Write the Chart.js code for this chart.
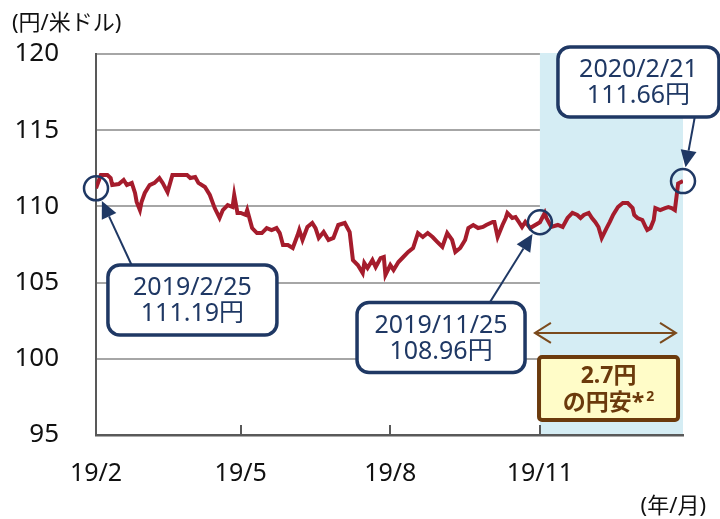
<!DOCTYPE html>
<html>
<head>
<meta charset="utf-8">
<script src="https://cdn.jsdelivr.net/npm/chart.js@4.4.1/dist/chart.umd.min.js"></script>
<style>
  html, body { margin: 0; padding: 0; background: #ffffff; }
  #chart { display: block; }
</style>
</head>
<body>
<canvas id="chart" width="720" height="519"></canvas>
<script>
// USD/JPY, days counted from 2019/2/25
const days = [0,3,7,9,10,14,17,19,22,24,25,27,28,30,33,36,39,41,44,47,52,56,58,61,63,67,70,73,76,78,81,84,85,87,89,92,93,96,99,102,105,108,111,113,115,118,121,124,125,127,130,133,135,137,140,143,146,149,153,156,158,161,164,165,167,170,172,175,177,178,181,183,186,189,192,195,198,201,204,207,210,213,216,219,221,224,227,229,232,235,238,240,244,245,247,250,252,253,256,258,260,262,264,267,273,276,277,280,284,287,290,293,296,298,300,303,305,307,309,311,314,316,318,321,324,327,330,331,333,336,338,339,341,343,344,347,350,352,354,356,358,361];
const rates = [111.19,112.06,112.06,111.86,111.40,111.47,111.73,111.40,111.54,110.88,110.29,109.76,110.29,110.88,111.40,111.54,111.86,111.54,110.94,112.06,112.06,112.06,111.86,111.93,111.54,111.27,110.75,109.89,109.24,109.76,110.09,109.96,110.75,109.57,109.57,109.44,109.76,108.58,108.25,108.25,108.58,108.45,108.58,108.25,107.47,107.47,107.27,108.12,108.45,107.80,108.65,108.91,108.58,107.93,108.32,107.80,107.93,108.78,108.91,108.32,106.48,106.15,105.63,106.29,105.96,106.48,106.02,106.61,106.68,105.50,106.15,105.83,106.35,106.68,107.01,107.27,108.25,107.99,108.25,107.99,107.66,107.34,108.25,107.80,107.01,107.27,107.80,108.58,108.78,108.58,108.65,108.78,108.98,108.98,107.99,108.78,109.24,109.57,109.24,109.30,108.98,108.65,108.98,108.58,108.96,109.57,109.24,108.65,108.78,108.65,109.24,109.57,109.44,109.24,109.44,109.57,109.24,108.98,108.65,107.93,108.58,108.98,109.44,109.96,110.22,110.22,109.89,109.44,109.24,109.11,108.65,108.45,108.58,109.11,109.89,109.76,109.89,109.96,109.89,109.76,111.50,111.66];

const tickDays = [0, 89, 181, 273];
const tickLabels = ['19/2', '19/5', '19/8', '19/11'];

const yMin = 95, yMax = 120, yStep = 5;
const shadeFrom = 273, shadeTo = 361;

// callouts: label lines, marked point, box centre (day, value)
const callouts = [
  { lines: ['2019/2/25', '111.19円'], day: 0, value: 111.19, boxDay: 59.3, boxValue: 103.86, w: 169, tail: [0.14, 'top'] },
  { lines: ['2019/11/25', '108.96円'], day: 273, value: 108.96, boxDay: 212.2, boxValue: 101.40, w: 168, tail: [0.79, 'top'] },
  { lines: ['2020/2/21', '111.66円'], day: 361, value: 111.66, boxDay: 333.6, boxValue: 118.16, w: 161, tail: [0.85, 'bottom'] }
];
const diffLines = ['2.7円', 'の円安*'];

const NAVY = '#1f3864';
const BROWN = '#6b3a0c';
const FONT = '"Noto Sans", "Noto Sans CJK JP", sans-serif';

function roundBox(ctx, x, y, w, h, r, fill, stroke, lw) {
    ctx.beginPath();
    ctx.roundRect(x, y, w, h, r);
    ctx.fillStyle = fill;
    ctx.fill();
    ctx.lineWidth = lw;
    ctx.strokeStyle = stroke;
    ctx.stroke();
}

function arrow(ctx, x1, y1, x2, y2, color) {
    const a = Math.atan2(y2 - y1, x2 - x1);
    const hl = 17, hw = 8;
    const bx = x2 - hl * Math.cos(a), by = y2 - hl * Math.sin(a);
    ctx.strokeStyle = color;
    ctx.lineWidth = 2;
    ctx.beginPath();
    ctx.moveTo(x1, y1);
    ctx.lineTo(bx, by);
    ctx.stroke();
    ctx.fillStyle = color;
    ctx.beginPath();
    ctx.moveTo(x2, y2);
    ctx.lineTo(bx + hw * Math.sin(a), by - hw * Math.cos(a));
    ctx.lineTo(bx - hw * Math.sin(a), by + hw * Math.cos(a));
    ctx.closePath();
    ctx.fill();
}

const overlayPlugin = {
    id: 'overlay',
    beforeDatasetsDraw(chart) {
        const { ctx, chartArea, scales: { x } } = chart;
        ctx.save();
        ctx.fillStyle = '#d5edf4';
        const x0 = x.getPixelForValue(shadeFrom), x1 = x.getPixelForValue(shadeTo);
        ctx.fillRect(x0, chartArea.top - 1, x1 - x0, chartArea.bottom - chartArea.top);
        ctx.restore();
    },
    afterDraw(chart) {
        const { ctx, chartArea, scales: { x, y } } = chart;
        ctx.save();

        // axis tick marks pointing up
        ctx.strokeStyle = '#595959';
        ctx.lineWidth = 2;
        tickDays.slice(1).forEach(d => {
            const px = Math.round(x.getPixelForValue(d));
            ctx.beginPath();
            ctx.moveTo(px, chartArea.bottom);
            ctx.lineTo(px, chartArea.bottom - 10);
            ctx.stroke();
        });

        // unit labels
        ctx.fillStyle = '#111';
        ctx.font = '22px ' + FONT;
        ctx.textBaseline = 'middle';
        ctx.textAlign = 'left';
        ctx.fillText('(円/米ドル)', 12, 24);
        ctx.textAlign = 'right';
        ctx.fillText('(年/月)', 706, 507);

        // callouts
        const boxH = 70, r = 12;
        callouts.forEach(c => {
            const cx = x.getPixelForValue(c.day), cy = y.getPixelForValue(c.value);
            const bx = x.getPixelForValue(c.boxDay) - c.w / 2;
            const by = y.getPixelForValue(c.boxValue) - boxH / 2;
            const tx = bx + c.w * c.tail[0];
            const ty = c.tail[1] === 'top' ? by : by + boxH;
            const d = Math.hypot(tx - cx, ty - cy);
            const ex = cx + (tx - cx) / d * (r + 2), ey = cy + (ty - cy) / d * (r + 2);
            arrow(ctx, tx, ty, ex, ey, NAVY);

            ctx.beginPath();
            ctx.arc(cx, cy, r, 0, Math.PI * 2);
            ctx.lineWidth = 2.5;
            ctx.strokeStyle = NAVY;
            ctx.stroke();

            roundBox(ctx, bx, by, c.w, boxH, 12, '#ffffff', NAVY, 3.5);
            ctx.fillStyle = NAVY;
            ctx.font = '25px ' + FONT;
            ctx.textAlign = 'center';
            ctx.fillText(c.lines[0], bx + c.w / 2, by + boxH / 2 - 12);
            ctx.fillText(c.lines[1], bx + c.w / 2, by + boxH / 2 + 14);
        });

        // span arrow over the shaded period
        const ay = y.getPixelForValue(101.7);
        const ax0 = x.getPixelForValue(shadeFrom) - 5, ax1 = x.getPixelForValue(shadeTo) - 7;
        ctx.strokeStyle = '#7b4a1c';
        ctx.lineWidth = 2;
        ctx.beginPath();
        ctx.moveTo(ax0, ay); ctx.lineTo(ax1, ay);
        ctx.moveTo(ax0 + 16, ay - 10); ctx.lineTo(ax0, ay); ctx.lineTo(ax0 + 16, ay + 10);
        ctx.moveTo(ax1 - 16, ay - 10); ctx.lineTo(ax1, ay); ctx.lineTo(ax1 - 16, ay + 10);
        ctx.stroke();

        // difference box
        const dx = x.getPixelForValue(315.2), dy = y.getPixelForValue(98.05);
        const dw = 139, dh = 63;
        roundBox(ctx, dx - dw / 2, dy - dh / 2, dw, dh, 3, '#fffcc8', BROWN, 4);
        ctx.fillStyle = BROWN;
        ctx.font = 'bold 23px ' + FONT;
        ctx.textAlign = 'center';
        ctx.fillText(diffLines[0], dx, dy - 12);
        const w1 = ctx.measureText(diffLines[1]).width;
        ctx.font = 'bold 14px ' + FONT;
        const w2 = ctx.measureText('2').width;
        ctx.font = 'bold 23px ' + FONT;
        ctx.textAlign = 'left';
        const sx = dx - (w1 + w2 + 2) / 2;
        ctx.fillText(diffLines[1], sx, dy + 15);
        ctx.font = 'bold 14px ' + FONT;
        ctx.fillText('2', sx + w1 + 2, dy + 8);

        ctx.restore();
    }
};

new Chart(document.getElementById('chart'), {
    type: 'line',
    data: {
        datasets: [{
            data: days.map((d, i) => ({ x: d, y: rates[i] })),
            borderColor: '#a51c2c',
            borderWidth: 4,
            pointRadius: 0,
            tension: 0,
            fill: false
        }]
    },
    options: {
        responsive: false,
        animation: false,
        layout: { padding: { top: 54, right: 37, left: 0, bottom: 0 } },
        plugins: {
            legend: { display: false },
            tooltip: { enabled: false }
        },
        scales: {
            x: {
                type: 'linear',
                min: 0,
                max: 361,
                afterBuildTicks: scale => { scale.ticks = tickDays.map(v => ({ value: v })); },
                afterFit: scale => { scale.height = 84; },
                ticks: {
                    autoSkip: false,
                    maxRotation: 0,
                    padding: 16,
                    color: '#111',
                    font: { family: FONT, size: 25 },
                    callback: v => tickLabels[tickDays.indexOf(v)]
                },
                grid: { display: false },
                border: { display: true, color: '#595959', width: 2.5 }
            },
            y: {
                min: yMin,
                max: yMax,
                afterFit: scale => { scale.width = 96; },
                ticks: {
                    stepSize: yStep,
                    padding: 37,
                    color: '#111',
                    font: { family: FONT, size: 26 }
                },
                grid: {
                    drawTicks: false,
                    lineWidth: 2,
                    color: ctx => ctx.tick && ctx.tick.value === yMin ? 'rgba(0,0,0,0)' : '#a6a6a6'
                },
                border: { display: true, color: '#595959', width: 2 }
            }
        }
    },
    plugins: [overlayPlugin]
});
</script>
</body>
</html>
